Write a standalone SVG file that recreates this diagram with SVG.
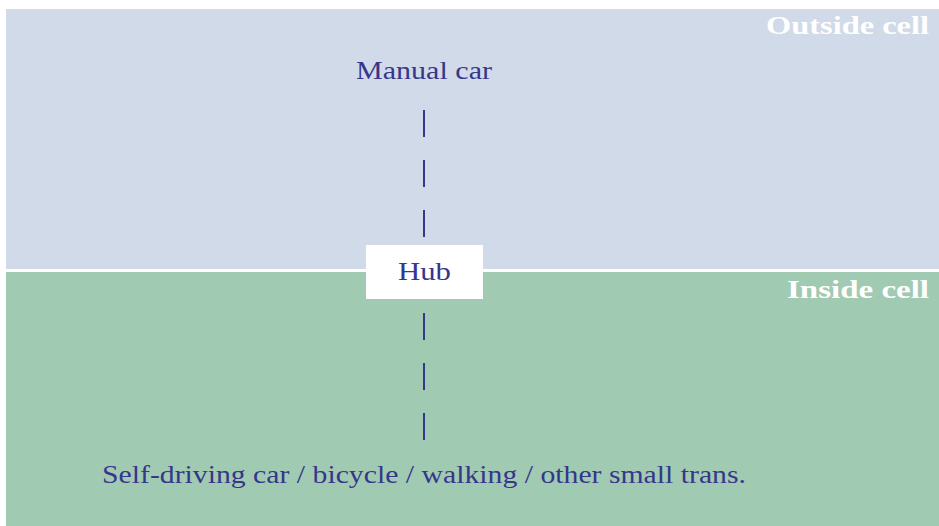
<svg xmlns="http://www.w3.org/2000/svg" width="939" height="526" viewBox="0 0 939 526">
<style>
.lbl{font-family:"Liberation Serif","Times New Roman",serif;fill:#36368a;font-size:26px}
.zone{font-family:"Liberation Serif","Times New Roman",serif;fill:#ffffff;font-size:26px;font-weight:bold}
.dash{stroke:#36368a;stroke-width:2;fill:none;stroke-dasharray:27 23}
</style>
<rect x="0" y="0" width="939" height="526" fill="#ffffff"/>
<g id="outside">
<rect x="6" y="9" width="933" height="260" fill="#d0dae9"/>
<text class="zone" x="766" y="34" textLength="163" lengthAdjust="spacingAndGlyphs">Outside cell</text>
</g>
<g id="inside">
<rect x="6" y="272" width="933" height="254" fill="#a1cab3"/>
<text class="zone" x="787" y="298" textLength="142" lengthAdjust="spacingAndGlyphs">Inside cell</text>
</g>
<g id="connectors">
<line class="dash" x1="424" y1="110" x2="424" y2="240"/>
<line class="dash" x1="424" y1="313" x2="424" y2="443"/>
</g>
<g id="manual">
<text class="lbl" x="356" y="79" textLength="136" lengthAdjust="spacingAndGlyphs">Manual car</text>
</g>
<g id="hub">
<rect x="366" y="245" width="117" height="54" fill="#ffffff"/>
<text class="lbl" x="398" y="280" textLength="53" lengthAdjust="spacingAndGlyphs">Hub</text>
</g>
<g id="small">
<text class="lbl" x="102" y="483" textLength="644" lengthAdjust="spacingAndGlyphs">Self-driving car / bicycle / walking / other small trans.</text>
</g>
</svg>
